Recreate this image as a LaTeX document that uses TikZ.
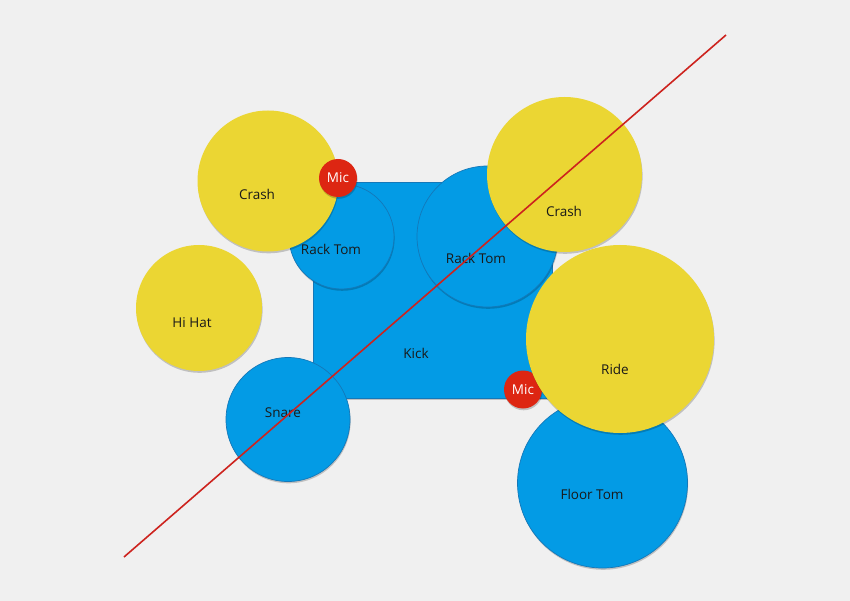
\documentclass[tikz,border=0pt]{standalone}
\usepackage{fontspec}
\setmainfont{Open Sans}
\usetikzlibrary{shadows}
\definecolor{bg}{RGB}{240,240,240}
\definecolor{drumblue}{RGB}{3,155,229}
\definecolor{drumedge}{RGB}{20,120,185}
\definecolor{cymyellow}{RGB}{235,214,51}
\definecolor{micred}{RGB}{221,38,18}
\definecolor{linered}{RGB}{205,35,30}
\tikzset{
  shad/.style={drop shadow={shadow xshift=0.6pt, shadow yshift=-1.8pt, opacity=0.2, fill=black}},
  drum/.style={circle, fill=drumblue, draw=drumedge, line width=0.7pt, inner sep=0pt, shad},
  cymbal/.style={circle, fill=cymyellow, draw=none, inner sep=0pt, shad},
  mic/.style={circle, fill=micred, draw=none, inner sep=0pt, minimum size=38pt, text=white, font=\fontsize{13.5}{16}\selectfont, shad},
  lbl/.style={font=\fontsize{13.5}{16}\selectfont, text=black!90, inner sep=0pt},
}
\begin{document}
\begin{tikzpicture}[x=1pt,y=-1pt]
\fill[bg] (0,0) rectangle (850,601);
\useasboundingbox (0,0) rectangle (850,601);
% Kick
\node[rectangle, fill=drumblue, draw=drumedge, line width=0.5pt, minimum width=239pt, minimum height=216pt, inner sep=0pt, shad] (kick) at (432.5,290) {};
\node[lbl] (kicktxt) at (416,353) {Kick};
% Hi Hat
\node[cymbal, minimum size=126pt] (hihat) at (199,308) {};
\node[lbl] (hihattxt) at (192,323) {Hi Hat};
% Snare
\node[drum, minimum size=124pt] (snare) at (288,419.5) {};
\node[lbl] (snaretxt) at (283,413) {Snare};
% Left rack tom
\node[drum, minimum size=105pt] (rackL) at (341.5,236.5) {};
\node[lbl] (rackLtxt) at (331,249) {Rack Tom};
% Left crash
\node[cymbal, minimum size=141pt] (crashL) at (268,181) {};
\node[lbl] (crashLtxt) at (257,194) {Crash};
% Mic 1
\node[mic] (mic1) at (338,178) {Mic};
% Right rack tom
\node[drum, minimum size=141pt] (rackR) at (487.5,236.5) {};
\node[lbl] (rackRtxt) at (476,258) {Rack Tom};
% Right crash
\node[cymbal, minimum size=155pt] (crashR) at (564.5,174.5) {};
\node[lbl] (crashRtxt) at (564,211) {Crash};
% Floor tom
\node[drum, minimum size=170pt] (floor) at (602.5,483) {};
\node[lbl] (floortxt) at (592,494) {Floor Tom};
% Mic 2
\node[mic] (mic2) at (523,389.5) {Mic};
% Ride
\node[cymbal, minimum size=188pt] (ride) at (620,339) {};
\node[lbl] (ridetxt) at (615,369) {Ride};
% Diagonal line
\coordinate (lineA) at (124,557);
\coordinate (lineB) at (726,35);
\draw[linered, line width=1.6pt] (lineA) -- (lineB);
\end{tikzpicture}
\end{document}
